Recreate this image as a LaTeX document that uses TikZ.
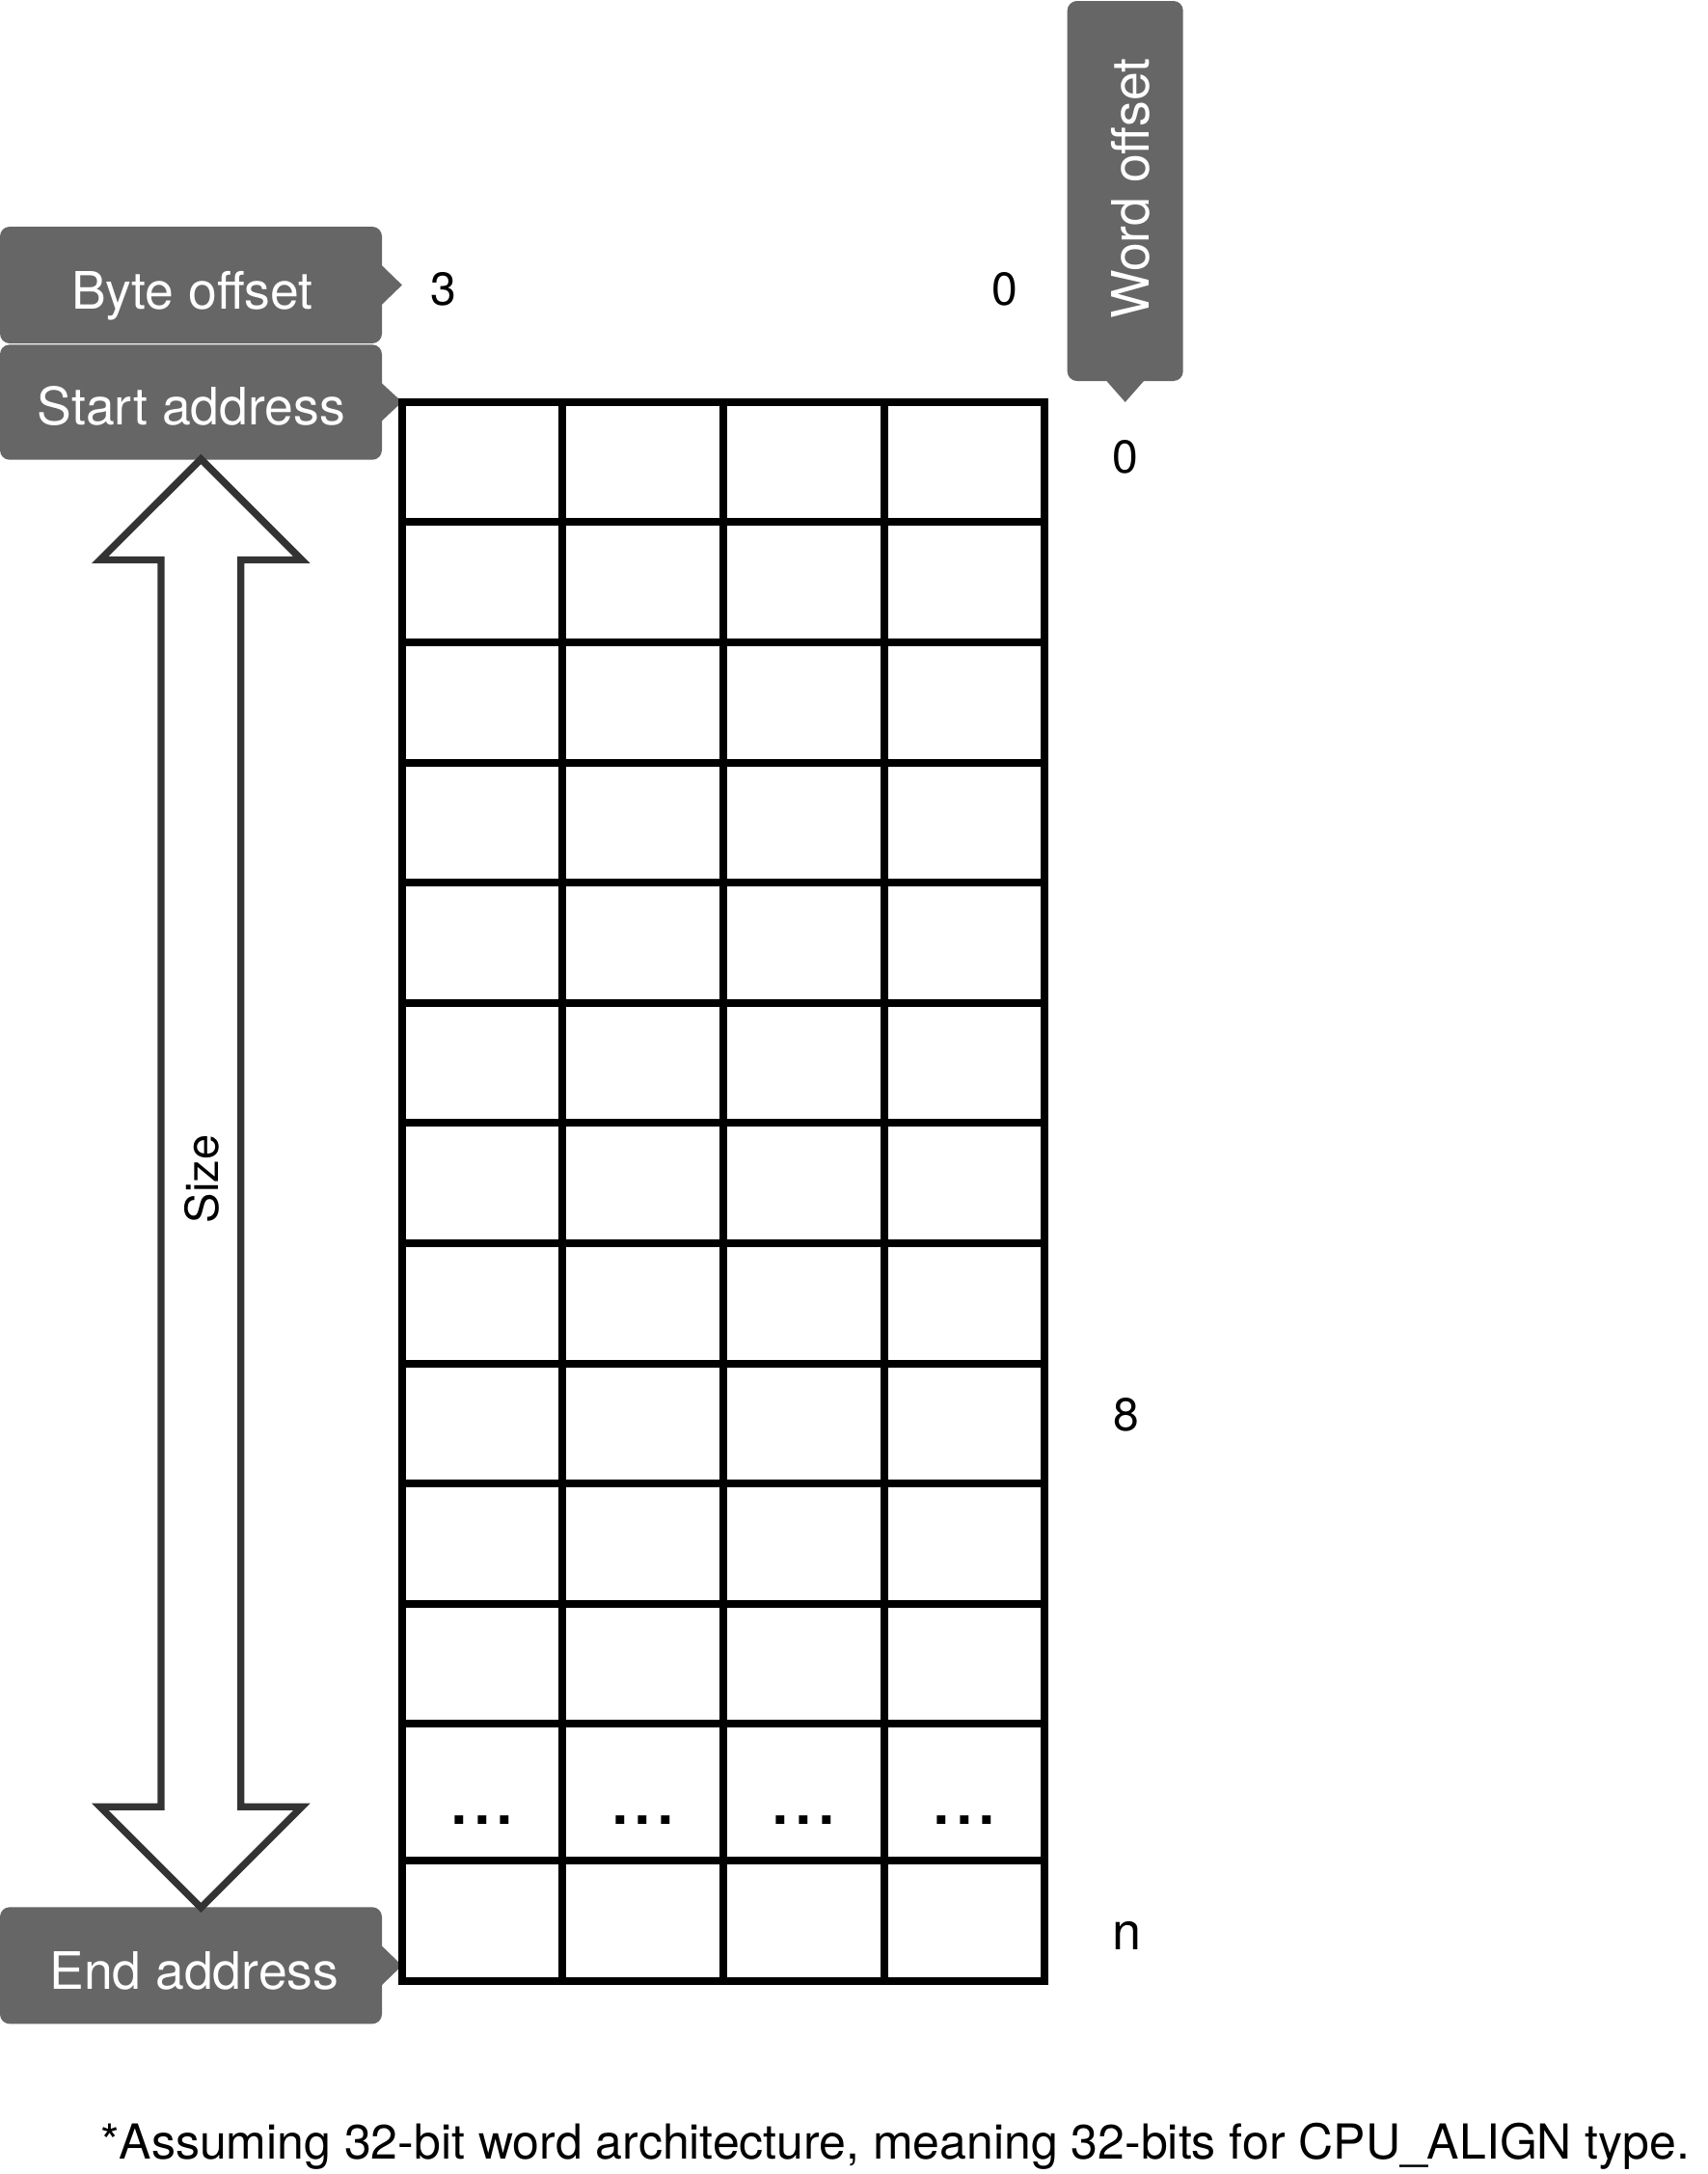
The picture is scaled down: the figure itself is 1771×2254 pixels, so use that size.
\documentclass[tikz,border=0pt]{standalone}
\usepackage{fontspec}
\setmainfont{TeX Gyre Heros}
\definecolor{boxgray}{HTML}{666666}
\definecolor{arrowgray}{HTML}{333333}
\begin{document}
\begin{tikzpicture}[x=1pt,y=-1pt,
  callout/.style={fill=boxgray, rounded corners=10pt, inner sep=0pt},
  lbl/.style={font=\fontsize{53.5}{60}\selectfont, text=white, inner sep=0pt, anchor=base},
  num/.style={font=\fontsize{48}{56}\selectfont, inner sep=0pt, anchor=base},
  dotstyle/.style={font=\fontsize{85}{90}\selectfont, inner sep=0pt, anchor=base},
  gridline/.style={line width=8pt, draw=black},
  sizearrow/.style={draw=arrowgray, fill=white, line width=7.3pt, line join=miter, miter limit=10},
]
\useasboundingbox (0,0) rectangle (1771,2254);

% callout boxes
\node[callout, minimum width=396pt, minimum height=121pt] (byte) at (198,295.5) {};
\fill[boxgray] (byte.east) ++(-1,-21) -- ++(21.7,21) -- ++(-21.7,21) -- cycle;
\node[lbl] (byteT) at (199.3,320.7) {Byte offset};

\node[callout, minimum width=396pt, minimum height=119.4pt] (start) at (198,417) {};
\fill[boxgray] (start.east) ++(-1,-20.3) -- ++(21.7,20) -- ++(-21.7,20.3) -- cycle;
\node[lbl] (startT) at (198.3,440.7) {Start address};

\node[callout, minimum width=396pt, minimum height=121pt] (end) at (198,2037.8) {};
\fill[boxgray] (end.east) ++(-1,-21) -- ++(21.7,21) -- ++(-21.7,21) -- cycle;
\node[lbl] (endT) at (201.3,2062.3) {End address};

\node[callout, minimum width=120pt, minimum height=394pt] (word) at (1166.7,198) {};
\fill[boxgray] (word.south) ++(-20,-1) -- ++(20,22.7) -- ++(20,-22.7) -- cycle;
\node[lbl, rotate=90] (wordT) at (1191,195.8) {Word offset};

% size arrow
\draw[sizearrow] (208.35,476) -- (312.9,580.5) -- (249.7,580.5) -- (249.7,1873.3)
  -- (312.9,1873.3) -- (208.35,1977.8) -- (103.8,1873.3) -- (167,1873.3)
  -- (167,580.5) -- (103.8,580.5) -- cycle;
\node[font=\fontsize{47}{56}\selectfont, rotate=90, anchor=base, inner sep=0pt] (size) at (226.7,1222.5) {Size};

% grid
\foreach \y in {541.3,665.9,790.5,915.1,1039.7,1164.3,1288.9,1413.5,1538.1,1662.7,1787.3,1929}
  \draw[gridline] (416.7,\y) -- (1083.3,\y);
\foreach \x in {583.37,750.03,916.7}
  \draw[gridline] (\x,416.7) -- (\x,2054);
\draw[gridline] (416.7,416.7) rectangle (1083.3,2054);

% dots
\foreach \x/\n in {500/d1,666.7/d2,833.3/d3,1000/d4}
  \node[dotstyle] (\n) at (\x,1891.7) {...};

% offset labels
\node[num] (b3) at (460,316.7) {3};
\node[num] (b0) at (1042,316.7) {0};
\node[num] (w0) at (1166.7,490) {0};
\node[num] (w8) at (1167.5,1483.3) {8};
\node[num, font=\fontsize{54}{60}\selectfont] (wn) at (1168.3,2021.7) {n};

% footnote
\node[font=\fontsize{50}{60}\selectfont, anchor=base west, inner sep=0pt] (note) at (104,2238.3) {*Assuming 32-bit word architecture, meaning 32-bits for CPU\_ALIGN type.};
\end{tikzpicture}
\end{document}
